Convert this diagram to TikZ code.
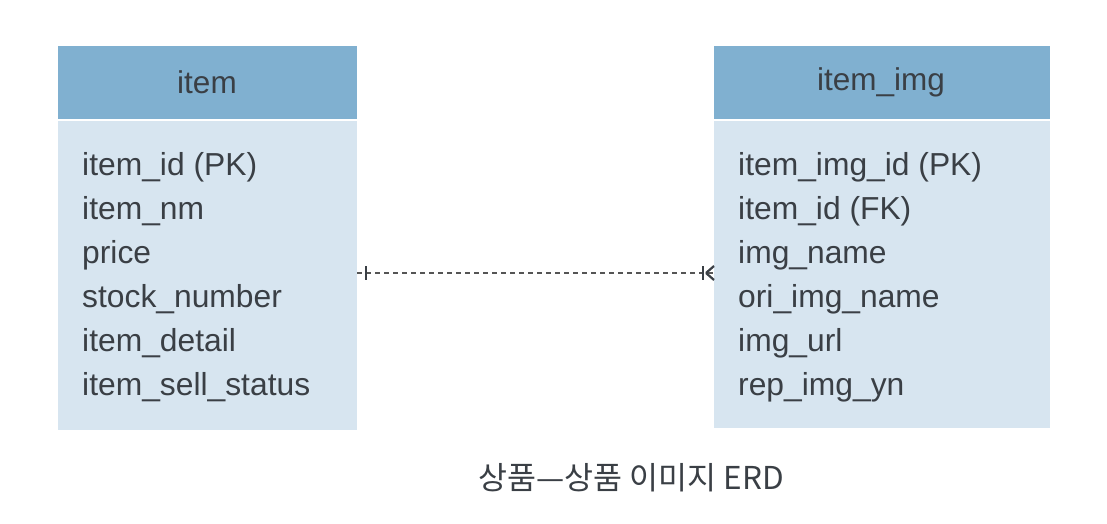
\documentclass[tikz,border=0pt]{standalone}
\usepackage{fontspec}
\setmainfont{Liberation Sans}
\newfontfamily\krfont{Noto Sans CJK KR}
\usetikzlibrary{calc}
\definecolor{hdrblue}{HTML}{80B0D0}
\definecolor{bodyblue}{HTML}{D7E5F0}
\definecolor{txtgray}{HTML}{3A3F45}
\definecolor{lnkgray}{HTML}{555555}
\tikzset{
  hdrbox/.style={fill=hdrblue, draw=none, anchor=north west, inner sep=0pt},
  hdrtext/.style={text=txtgray, font=\fontsize{31.5}{34}\selectfont, inner sep=0pt},
  bodybox/.style={fill=bodyblue, draw=none, anchor=north west, inner sep=0pt},
  attr/.style={anchor=base west, inner sep=0pt, text=txtgray,
    font=\fontsize{31.8}{34}\selectfont},
  rel/.style={draw=lnkgray, line width=1.2pt, dash pattern=on 5pt off 4pt},
  tickmark/.style={draw=txtgray, line width=2.2pt}
}
\begin{document}
\begin{tikzpicture}[x=1pt,y=-1pt]
\useasboundingbox (0,0) rectangle (1107,524);
% item entity
\node[hdrbox, minimum width=299pt, minimum height=73pt] (itemh) at (58,46) {};
\node[hdrtext] (itemt) at (207,82) {item};
\node[bodybox, minimum width=299pt, minimum height=309pt] (itemb) at (58,121) {};
\node[attr] (a1) at (82,175) {item\_id (PK)};
\node[attr] (a2) at (82,219) {item\_nm};
\node[attr] (a3) at (82,263) {price};
\node[attr] (a4) at (82,307) {stock\_number};
\node[attr] (a5) at (82,351) {item\_detail};
\node[attr] (a6) at (82,395) {item\_sell\_status};
% item_img entity
\node[hdrbox, minimum width=336pt, minimum height=73pt] (imgh) at (714,46) {};
\node[hdrtext] (imgt) at (881,82) {item\_img};
\node[bodybox, minimum width=336pt, minimum height=307pt] (imgb) at (714,121) {};
\node[attr] (b1) at (738,175) {item\_img\_id (PK)};
\node[attr] (b2) at (738,219) {item\_id (FK)};
\node[attr] (b3) at (738,263) {img\_name};
\node[attr] (b4) at (738,307) {ori\_img\_name};
\node[attr] (b5) at (738,351) {img\_url};
\node[attr] (b6) at (738,395) {rep\_img\_yn};
% relationship
\coordinate (L) at (357,273);
\coordinate (R) at (714,273);
\draw[rel] (L) -- (R);
\draw[tickmark] ($(L)+(9,-7)$) -- ($(L)+(9,7)$);
\draw[tickmark] ($(R)+(-11,-7)$) -- ($(R)+(-11,7)$);
\draw[tickmark] ($(R)+(-8,0)$) -- ($(R)+(0,-7)$);
\draw[tickmark] ($(R)+(-8,0)$) -- ($(R)+(0,7)$);
% caption
\node[text=txtgray, font=\krfont\fontsize{31.5}{34}\selectfont, inner sep=0pt] (cap) at (631,478) {상품—상품 이미지 ERD};
\end{tikzpicture}
\end{document}
